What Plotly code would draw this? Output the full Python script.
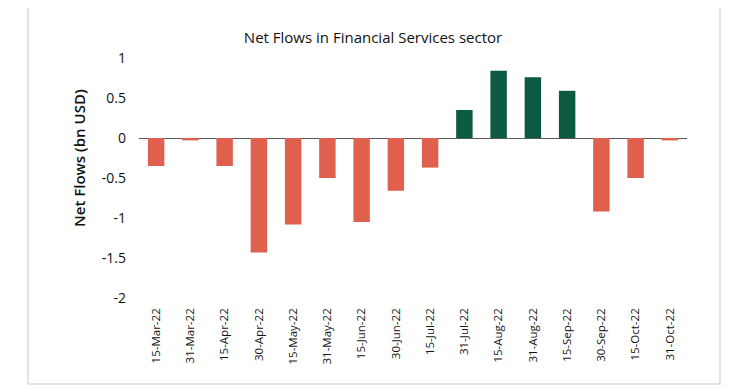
import plotly.graph_objects as go

dates = ["15-Mar-22", "31-Mar-22", "15-Apr-22", "30-Apr-22", "15-May-22", "31-May-22",
         "15-Jun-22", "30-Jun-22", "15-Jul-22", "31-Jul-22", "15-Aug-22", "31-Aug-22",
         "15-Sep-22", "30-Sep-22", "15-Oct-22", "31-Oct-22"]
net_flows = [-0.35, -0.03, -0.35, -1.43, -1.08, -0.50, -1.05, -0.66, -0.37,
             0.35, 0.84, 0.76, 0.59, -0.92, -0.50, -0.03]
y_ticks = [1, 0.5, 0, -0.5, -1, -1.5, -2]
y_tick_labels = ["1", "0.5", "0", "-0.5", "-1", "-1.5", "-2"]

RED = "#E0604E"
GREEN = "#0C5A41"
colors = [GREEN if v > 0 else RED for v in net_flows]

FONT = "Open Sans"
TXT = "#111111"

# The page body has an 8px margin, so the figure is 8px smaller and shifted.
W, H = 742, 382
L, T, R, B = 131, 50, 63, 92
PW, PH = W - L - R, H - T - B

fig = go.Figure(go.Bar(x=dates, y=net_flows, marker=dict(color=colors, line=dict(width=0))))

fig.update_layout(
    width=W, height=H,
    margin=dict(l=L, r=R, t=T, b=B),
    paper_bgcolor="white", plot_bgcolor="white",
    bargap=0.52,
    showlegend=False,
    font=dict(family=FONT, size=13, color=TXT),
    title=dict(text="Net Flows in Financial Services sector", x=(373 - 8) / W, xanchor="center",
               y=1 - 30 / H, yanchor="middle", font=dict(size=15, family=FONT, color=TXT)),
    xaxis=dict(type="category", tickangle=-90, showgrid=False, showline=False, zeroline=False,
               ticks="", ticklabelstandoff=7, tickfont=dict(size=11.5)),
    yaxis=dict(range=[-2, 1], tickvals=y_ticks, ticktext=y_tick_labels, showgrid=False,
               showline=False, zeroline=True, zerolinecolor="#595959", zerolinewidth=1.3,
               ticks="", ticklabelstandoff=12, tickfont=dict(size=14)),
    annotations=[dict(text="Net Flows (bn USD)", textangle=-90, xref="paper", yref="paper",
                      x=(79 - 139) / PW, y=(298 - 158) / PH, xanchor="center", yanchor="middle",
                      showarrow=False, font=dict(size=15, family=FONT, color=TXT, weight=600))],
    shapes=[dict(type="rect", xref="paper", yref="paper",
                 x0=(28 - 139) / PW, x1=(720 - 139) / PW,
                 y0=(298 - 384) / PH, y1=(298 - 5) / PH,
                 line=dict(color="#e3e3e3", width=2), fillcolor="rgba(0,0,0,0)", layer="below")],
)

fig.write_html("out.html")
